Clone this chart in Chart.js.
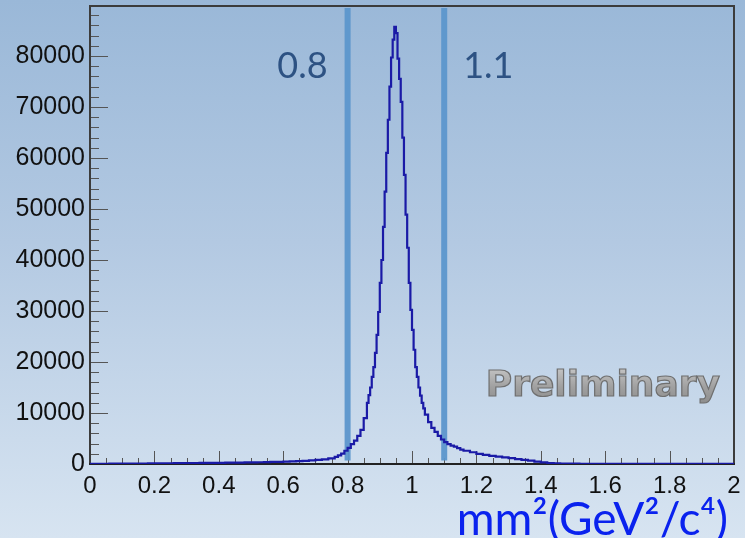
<!DOCTYPE html>
<html>
<head>
<meta charset="utf-8">
<script src="https://cdn.jsdelivr.net/npm/chart.js@4"></script>
<style>
  html, body { margin: 0; padding: 0; }
  body {
    width: 745px; height: 538px; overflow: hidden;
    background: linear-gradient(to bottom, #9ab8d8 0%, #b3c9e2 45%, #d7e4f1 100%);
  }
</style>
</head>
<body>
<canvas id="mm2" width="745" height="538"></canvas>
<script>
// histogram pieces: [first bin low edge, bin width] + counts per bin
const tailLoBins = [0, 0.02];
const tailLoCounts = [30, 40, 50, 60, 60, 70, 80, 90, 100, 110, 120, 140, 150, 170, 180, 190, 200, 210, 220, 230,
  240, 250, 270, 280, 300, 320, 340, 370, 400, 430, 460, 500, 560, 620, 700, 790, 920, 1100];
const riseBins = [0.76, 0.01];
const riseCounts = [1400, 1700, 2050, 2600, 3150, 3900, 4600, 5500, 6700, 9000];
const peakBins = [0.86, 0.005];
const peakCounts = [12000, 13500, 15000, 17100, 19000, 21800, 25300, 29800, 35500, 40000, 46500, 53400,
  61000, 67500, 74000, 79700, 83200, 85700, 84500, 79500, 75500, 71000, 64000, 56700, 48900, 42400,
  35500, 30200, 26300, 22400, 19000, 17100, 15000, 13400, 12000, 10900];
const fallBins = [1.04, 0.01];
const fallCounts = [9700, 8200, 7100, 6300, 5500, 4800, 4300, 3900, 3600, 3400, 3100, 2800];
const tailHiBins = [1.16, 0.02];
const tailHiCounts = [2600, 2300, 2000, 1800, 1600, 1450, 1300, 1150, 950, 800, 650, 450, 300, 180, 110, 80, 60,
  55, 50, 50, 45, 45, 40, 40, 40, 35, 35, 35, 30, 30, 30, 30, 25, 25, 25, 25, 20, 20, 20, 20, 20, 20];

const xTicks = [0, 0.2, 0.4, 0.6, 0.8, 1, 1.2, 1.4, 1.6, 1.8, 2];
const yTicks = [0, 10000, 20000, 30000, 40000, 50000, 60000, 70000, 80000];
const cutValues = [0.8, 1.1];
const cutLabels = ['0.8', '1.1'];
const xMin = 0, xMax = 2;
const yMin = 0, yMax = 89800;

function histPoints() {
  const pts = [];
  [[tailLoBins, tailLoCounts], [riseBins, riseCounts], [peakBins, peakCounts],
   [fallBins, fallCounts], [tailHiBins, tailHiCounts]].forEach(([b, counts]) => {
    counts.forEach((c, i) => pts.push({ x: b[0] + i * b[1], y: c }));
  });
  pts.push({ x: xMax, y: tailHiCounts[tailHiCounts.length - 1] });
  return pts;
}

// ROOT-like frame with ticks pointing inward + the text annotations
const rootFrame = {
  id: 'rootFrame',
  beforeDatasetsDraw(chart) {
    const { ctx, chartArea: a, scales: { x, y } } = chart;
    ctx.save();
    ctx.lineWidth = 1;
    ctx.strokeStyle = '#555';
    for (let v = 0; v <= yMax; v += 2000) {
      const py = Math.round(y.getPixelForValue(v)) + 0.5;
      const len = v % 10000 === 0 ? 18 : 9;
      ctx.beginPath(); ctx.moveTo(a.left, py); ctx.lineTo(a.left + len, py); ctx.stroke();
    }
    for (let i = 0; i <= 40; i++) {
      const v = i * 0.05;
      const px = Math.round(x.getPixelForValue(v)) + 0.5;
      const len = i % 4 === 0 ? 13 : 6;
      ctx.beginPath(); ctx.moveTo(px, a.bottom); ctx.lineTo(px, a.bottom - len); ctx.stroke();
    }
    // frame
    ctx.strokeStyle = '#3c3c3c';
    ctx.lineWidth = 2;
    ctx.beginPath();
    ctx.moveTo(a.left, a.bottom); ctx.lineTo(a.left, a.top); ctx.lineTo(a.right, a.top); ctx.lineTo(a.right, a.bottom);
    ctx.stroke();
    ctx.strokeStyle = '#222';
    ctx.beginPath(); ctx.moveTo(a.left - 1, a.bottom); ctx.lineTo(a.right + 1, a.bottom); ctx.stroke();
    ctx.restore();
  },
  afterDraw(chart) {
    const { ctx, chartArea: a, scales: { x } } = chart;
    ctx.save();
    // cut labels
    ctx.font = '36px Lato';
    ctx.fillStyle = '#2d5283';
    ctx.textBaseline = 'middle';
    ctx.textAlign = 'right';
    ctx.fillText(cutLabels[0], x.getPixelForValue(cutValues[0]) - 20, a.top + 60);
    ctx.textAlign = 'left';
    ctx.fillText(cutLabels[1], x.getPixelForValue(cutValues[1]) + 19, a.top + 60);

    // Preliminary
    ctx.font = 'bold 36px "DejaVu Sans"';
    ctx.textAlign = 'right';
    ctx.textBaseline = 'alphabetic';
    const g = ctx.createLinearGradient(0, a.bottom - 96, 0, a.bottom - 58);
    g.addColorStop(0, '#c4c4c4');
    g.addColorStop(0.5, '#a0a0a0');
    g.addColorStop(1, '#8a8a8a');
    ctx.fillStyle = g;
    ctx.fillText('Preliminary', a.right - 14, a.bottom - 68);
    ctx.lineWidth = 1.2;
    ctx.strokeStyle = '#6f6f6f';
    ctx.strokeText('Preliminary', a.right - 14, a.bottom - 68);

    // axis title
    ctx.font = '46px Lato';
    ctx.fillStyle = '#0a22ee';
    ctx.fillText('mm²(GeV²/c⁴)', 728, 535);
    ctx.restore();
  }
};

new Chart(document.getElementById('mm2'), {
  type: 'line',
  data: {
    datasets: [{
      label: 'mm2',
      data: histPoints(),
      stepped: 'before',
      borderColor: '#1a1aa6',
      borderWidth: 2.2,
      pointRadius: 0,
      fill: false
    }].concat(cutValues.map(v => ({
      label: 'cut ' + v,
      data: [{ x: v, y: 700 }, { x: v, y: 89400 }],
      borderColor: 'rgba(92,150,204,0.95)',
      borderWidth: 6,
      borderCapStyle: 'butt',
      pointRadius: 0,
      fill: false
    })))
  },
  options: {
    responsive: false,
    animation: false,
    layout: { padding: { top: 6, right: 11, left: 0, bottom: 0 } },
    plugins: { legend: { display: false }, tooltip: { enabled: false } },
    scales: {
      x: {
        type: 'linear',
        min: xMin, max: xMax,
        grid: { display: false, drawTicks: false },
        border: { display: false },
        afterBuildTicks: s => { s.ticks = xTicks.map(v => ({ value: v })); },
        ticks: {
          autoSkip: false,
          maxRotation: 0,
          padding: 8,
          color: '#111',
          font: { family: 'Liberation Sans', size: 24 },
          callback: v => String(v)
        },
        afterFit: s => { s.height = 74; s.paddingLeft = 0; s.paddingRight = 0; }
      },
      y: {
        min: yMin, max: yMax,
        grid: { display: false, drawTicks: false },
        border: { display: false },
        afterBuildTicks: s => { s.ticks = yTicks.map(v => ({ value: v })); },
        ticks: {
          autoSkip: false,
          padding: 5,
          color: '#111',
          font: { family: 'Liberation Sans', size: 25 },
          callback: v => String(v)
        },
        afterFit: s => { s.width = 90; s.paddingTop = 0; s.paddingBottom = 0; }
      }
    }
  },
  plugins: [rootFrame]
});
</script>
</body>
</html>
